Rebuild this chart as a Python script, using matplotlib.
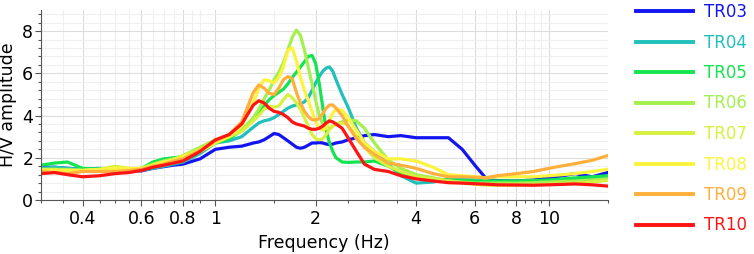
import matplotlib
matplotlib.use("Agg")
import matplotlib.pyplot as plt
from matplotlib.ticker import FixedLocator, NullFormatter

freq = [0.3, 0.33, 0.36, 0.4, 0.45, 0.5, 0.55, 0.6, 0.65, 0.7,
        0.75, 0.8, 0.9, 1.0, 1.1, 1.2, 1.3,
        1.35, 1.4, 1.45, 1.5, 1.55, 1.6, 1.65, 1.7, 1.75, 1.8,
        1.85, 1.9, 1.95, 2.0, 2.05, 2.1, 2.15, 2.2, 2.25, 2.3,
        2.4, 2.5, 2.65, 2.8, 3.0, 3.3, 3.6, 4.0, 4.5, 5.0,
        5.5, 6.0, 6.5, 7.0, 8.0, 9.0, 10, 11, 12, 13.5, 15]

tr03 = [1.55, 1.55, 1.5, 1.45, 1.45, 1.4, 1.4, 1.38, 1.5, 1.58,
        1.65, 1.7, 1.95, 2.4, 2.5, 2.55, 2.7,
        2.75, 2.85, 3.0, 3.15, 3.1, 2.95, 2.8, 2.65, 2.5, 2.45,
        2.5, 2.6, 2.7, 2.7, 2.72, 2.7, 2.65, 2.63, 2.65, 2.7,
        2.75, 2.85, 2.95, 3.05, 3.1, 3.0, 3.05, 2.95, 2.95, 2.95,
        2.4, 1.65, 1.0, 0.92, 0.9, 0.95, 1.05, 1.15, 1.25, 1.1, 1.3]
tr04 = [1.5, 1.55, 1.5, 1.45, 1.5, 1.45, 1.4, 1.4, 1.5, 1.6,
        1.7, 1.8, 2.2, 2.7, 2.8, 3.0, 3.45,
        3.65, 3.75, 3.8, 3.9, 4.05, 4.2, 4.35, 4.45, 4.5, 4.55,
        4.65, 4.85, 5.2, 5.55, 5.85, 6.1, 6.25, 6.3, 6.1, 5.7,
        5.0, 4.4, 3.4, 2.7, 2.3, 1.7, 1.15, 0.8, 0.85, 1.0,
        1.0, 0.95, 0.9, 0.88, 0.88, 0.9, 0.92, 0.97, 1.0, 1.05, 1.1]
tr05 = [1.65, 1.75, 1.8, 1.5, 1.45, 1.4, 1.4, 1.5, 1.8, 1.95,
        2.0, 2.05, 2.3, 2.7, 2.9, 3.3, 3.8,
        4.1, 4.45, 4.75, 4.95, 5.1, 5.25, 5.5, 5.8, 6.05, 6.3,
        6.55, 6.8, 6.85, 6.45, 5.5, 4.4, 3.3, 2.7, 2.3, 2.0,
        1.8, 1.78, 1.8, 1.8, 1.85, 1.6, 1.3, 1.1, 1.0, 0.95,
        0.92, 0.9, 0.9, 0.9, 0.9, 0.92, 0.95, 1.0, 1.05, 1.1, 1.15]
tr06 = [1.45, 1.45, 1.45, 1.4, 1.45, 1.45, 1.45, 1.5, 1.7, 1.85,
        1.95, 2.1, 2.5, 2.85, 3.0, 3.3, 3.9,
        4.3, 4.8, 5.2, 5.7, 6.05, 6.5, 7.1, 7.7, 8.05, 7.8,
        7.1, 6.3, 5.5, 4.7, 4.0, 3.6, 3.4, 3.4, 3.5, 3.6,
        3.7, 3.8, 3.75, 3.4, 2.7, 1.9, 1.5, 1.2, 1.05, 0.9,
        0.85, 0.8, 0.8, 0.8, 0.8, 0.82, 0.85, 0.88, 0.9, 0.95, 1.0]
tr07 = [1.45, 1.45, 1.4, 1.4, 1.45, 1.6, 1.5, 1.45, 1.6, 1.75,
        1.9, 2.1, 2.4, 2.8, 3.0, 3.25, 3.75,
        4.0, 4.3, 4.45, 4.4, 4.45, 4.75, 5.0, 4.85, 4.6, 4.3,
        3.9, 3.5, 3.1, 2.9, 2.85, 2.9, 3.1, 3.35, 3.5, 3.6,
        3.65, 3.55, 3.0, 2.5, 2.0, 1.6, 1.35, 1.1, 1.0, 0.9,
        0.8, 0.75, 0.7, 0.7, 0.7, 0.72, 0.75, 0.78, 0.8, 0.85, 0.93]
tr08 = [1.4, 1.4, 1.4, 1.4, 1.45, 1.5, 1.5, 1.5, 1.65, 1.8,
        1.9, 2.05, 2.3, 2.7, 3.0, 3.5, 4.6,
        5.3, 5.7, 5.65, 5.55, 5.8, 6.3, 7.1, 7.2, 6.6, 5.8,
        5.2, 4.7, 4.2, 3.7, 3.4, 3.3, 3.4, 3.8, 4.1, 4.3,
        4.25, 3.9, 3.3, 2.7, 2.3, 1.95, 1.95, 1.85, 1.55, 1.2,
        1.15, 1.1, 1.05, 1.1, 1.1, 1.1, 1.15, 1.2, 1.25, 1.35, 1.45]
tr09 = [1.35, 1.3, 1.25, 1.35, 1.35, 1.35, 1.4, 1.45, 1.6, 1.7,
        1.85, 1.95, 2.35, 2.8, 3.1, 3.7, 5.1,
        5.45, 5.3, 5.05, 5.0, 5.3, 5.7, 5.85, 5.75, 5.1, 4.6,
        4.2, 3.95, 3.8, 3.8, 3.85, 4.1, 4.35, 4.5, 4.5, 4.35,
        4.0, 3.5, 2.9, 2.5, 2.15, 1.75, 1.65, 1.5, 1.25, 1.1,
        1.1, 1.08, 1.05, 1.15, 1.25, 1.35, 1.5, 1.62, 1.72, 1.88, 2.1]
tr10 = [1.25, 1.3, 1.2, 1.1, 1.15, 1.25, 1.3, 1.4, 1.55, 1.65,
        1.75, 1.85, 2.3, 2.85, 3.1, 3.6, 4.5,
        4.7, 4.6, 4.35, 4.2, 4.15, 4.05, 3.9, 3.7, 3.6, 3.55,
        3.5, 3.4, 3.35, 3.35, 3.4, 3.5, 3.65, 3.75, 3.7, 3.6,
        3.4, 2.95, 2.3, 1.7, 1.45, 1.35, 1.15, 1.0, 0.9, 0.82,
        0.8, 0.77, 0.75, 0.72, 0.71, 0.7, 0.72, 0.74, 0.76, 0.72, 0.66]

names = ["TR03", "TR04", "TR05", "TR06", "TR07", "TR08", "TR09", "TR10"]
colors = ["#1414f0", "#20c0bc", "#14e450", "#a4f04c", "#d8f040",
          "#fcf43c", "#ffb03c", "#ff1414"]

major_x = [0.4, 0.6, 0.8, 1, 2, 4, 6, 8, 10]
major_x_labels = ["0.4", "0.6", "0.8", "1", "2", "4", "6", "8", "10"]
minor_x = [0.3, 0.35, 0.45, 0.5, 0.55, 0.65, 0.7, 0.75, 0.85, 0.9,
           1.5, 2.5, 3, 3.5, 5.5, 6.5, 7, 7.5, 8.5, 9, 9.5, 15]

fig = plt.figure(figsize=(7.54, 2.54), dpi=100)
ax = fig.add_axes([41 / 754, 54 / 254, 566.5 / 754, 190 / 254])

for name, vals, c in zip(names, [tr03, tr04, tr05, tr06, tr07, tr08, tr09, tr10], colors):
    ax.plot(freq, vals, color=c, lw=2.3, label=name, solid_joinstyle="round")

ax.set_xscale("log")
ax.set_xlim(0.3, 15)
ax.set_ylim(0, 9)
ax.xaxis.set_major_locator(FixedLocator(major_x))
ax.set_xticklabels(major_x_labels)
ax.xaxis.set_minor_locator(FixedLocator(minor_x))
ax.xaxis.set_minor_formatter(NullFormatter())
ax.set_yticks([0, 2, 4, 6, 8])
ax.set_yticks([v * 0.4 for v in range(23)], minor=True)

ax.grid(which="major", color="#dcdcdc", lw=0.8)
ax.grid(which="minor", color="#efefef", lw=0.8)
ax.set_axisbelow(True)

for s in ["top", "right"]:
    ax.spines[s].set_visible(False)
for s in ["left", "bottom"]:
    ax.spines[s].set_color("#555555")
    ax.spines[s].set_linewidth(0.8)

ax.tick_params(which="major", length=4.3, width=0.8, color="#555555",
               labelsize=12.5)
ax.tick_params(which="minor", length=2.4, width=0.8, color="#555555")
ax.tick_params(axis="x", which="major", pad=3)
ax.tick_params(axis="y", which="major", pad=1.2)

ax.set_xlabel("Frequency (Hz)", fontsize=12.5, labelpad=4)
ax.set_ylabel("H/V amplitude", fontsize=12.5)
ax.yaxis.set_label_coords(-23.5 / 566.5, 0.5)

leg = ax.legend(loc="upper left", bbox_to_anchor=(636 / 754, 1 - 3 / 254),
                bbox_transform=fig.transFigure, frameon=False,
                fontsize=12, handlelength=3.4, handletextpad=0.7,
                borderpad=0, borderaxespad=0, labelspacing=0.75)
for t, c in zip(leg.get_texts(), colors):
    t.set_color(c)
for line in leg.get_lines():
    line.set_linewidth(2.8)

fig.savefig("out.png", dpi=100)
